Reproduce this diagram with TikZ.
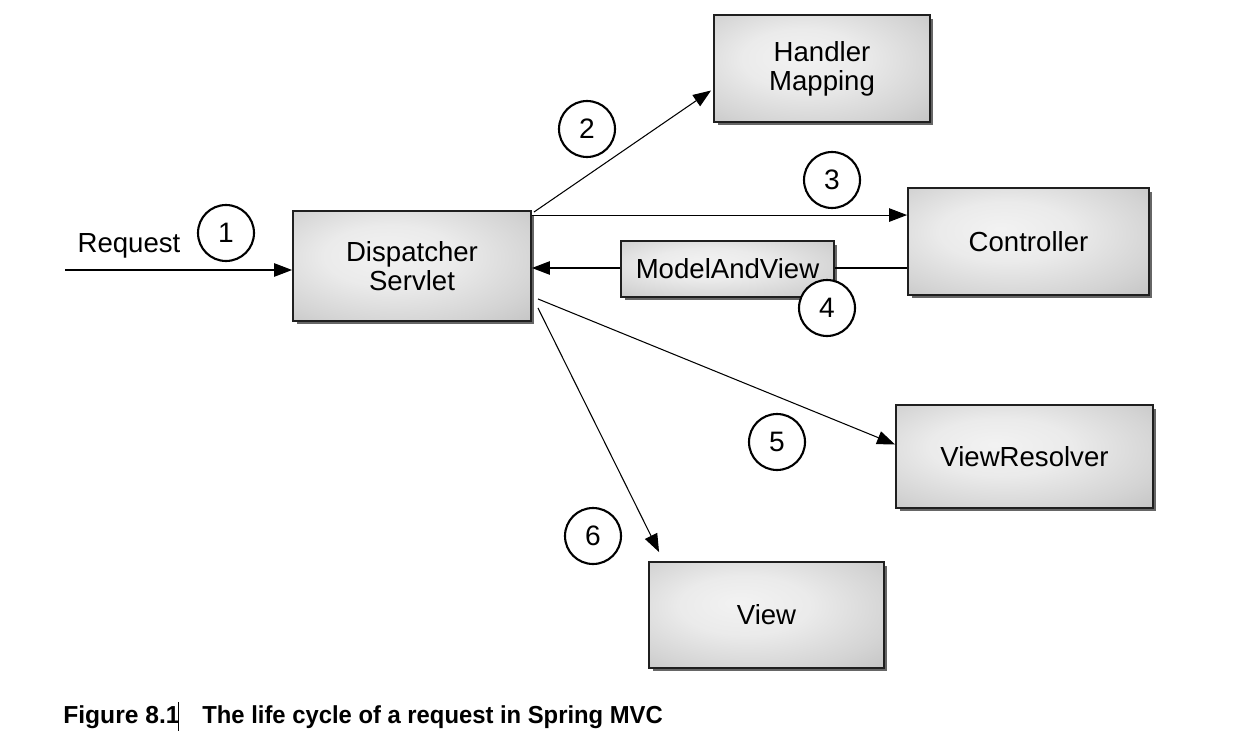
\documentclass[tikz,border=0pt]{standalone}
\usepackage{fontspec}
\setmainfont{Liberation Sans}
\usetikzlibrary{shadows,calc,arrows.meta}
\pgfdeclareradialshading{boxshade}{\pgfpoint{-6bp}{6bp}}{%
  color(0bp)=(black!5);
  color(14bp)=(black!8);
  color(30bp)=(black!17);
  color(45bp)=(black!27);
  color(60bp)=(black!30)}
\tikzset{
  box/.style={draw=black!88, line width=1.1pt, shading=boxshade, inner sep=0pt,
    align=center, font=\fontsize{15.7}{16.5}\selectfont,
    drop shadow={shadow xshift=0.07cm, shadow yshift=-0.07cm, fill=black!60, opacity=1}},
  num/.style={circle, draw=black, line width=1.2pt, fill=white, minimum size=1.12cm,
    inner sep=0pt, font=\fontsize{16}{18}\selectfont},
  arr/.style={line width=0.6pt, -{Triangle[length=0.36cm,width=0.27cm]}},
  ln/.style={line width=0.6pt},
  captionstyle/.style={anchor=west, inner sep=0pt, font=\bfseries\fontsize{14}{16}\selectfont}
}
\begin{document}
\begin{tikzpicture}[x=0.02cm,y=-0.02cm]
\useasboundingbox (0,0) rectangle (1253,733);
% boxes
\node[box, minimum width=4.76cm, minimum height=2.2cm] (disp) at (412,266) {Dispatcher\\Servlet};
\node[box, minimum width=4.32cm, minimum height=2.14cm] (hm) at (822,68.5) {Handler\\Mapping};
\node[box, minimum width=4.82cm, minimum height=2.14cm] (ctrl) at (1028.5,241.5) {Controller};
\node[box, minimum width=5.14cm, minimum height=2.06cm] (vr) at (1024.5,456.5) {ViewResolver};
\node[box, minimum width=4.7cm, minimum height=2.12cm] (view) at (766.5,615) {View};
% request
\coordinate (req) at (65,270);
\node[font=\fontsize{15.7}{16.5}\selectfont] (reqlbl) at (129,246) {Request};
\draw[arr] (req) -- (req -| disp.west);
% 2
\draw[arr] ($(disp.north east)+(2,2)$) -- ($(hm.west)+(-2,22)$);
% 3
\draw[arr] ($(disp.north east)+(0,5)$) -- ($(ctrl.west |- disp.north east)+(0,5)$);
% 4
\node[box, minimum width=4.26cm, minimum height=1.12cm] (mav) at (727.5,269) {ModelAndView};
\draw[ln] ($(ctrl.west |- mav.east)+(0,-1)$) -- ($(mav.east)+(0,-1)$);
\draw[arr] ($(mav.west)+(0,-1)$) -- ($(mav.west -| disp.east)+(0,-1)$);
% 5
\draw[arr] ($(disp.south east)+(6,-23)$) -- ($(vr.west)+(0,-12)$);
% 6
\draw[arr] ($(disp.south east)+(6,-14)$) -- ($(view.north west)+(11,-9)$);
% numbers
\node[num] (c1) at (226,233) {1};
\node[num] (c2) at (587,129) {2};
\node[num] (c3) at (832,180) {3};
\node[num] (c4) at (827,308) {4};
\node[num] (c5) at (777,442) {5};
\node[num] (c6) at (593,536) {6};
% caption
\node[captionstyle] (fig) at (63,717) {Figure 8.1};
\coordinate (bartop) at (178,702);
\coordinate (barbot) at (178,731);
\draw[line width=0.5pt] (bartop) -- (barbot);
\node[captionstyle] (captext) at (202,717) {\scalebox{0.968}[1]{The life cycle of a request in Spring MVC}};
\end{tikzpicture}
\end{document}
